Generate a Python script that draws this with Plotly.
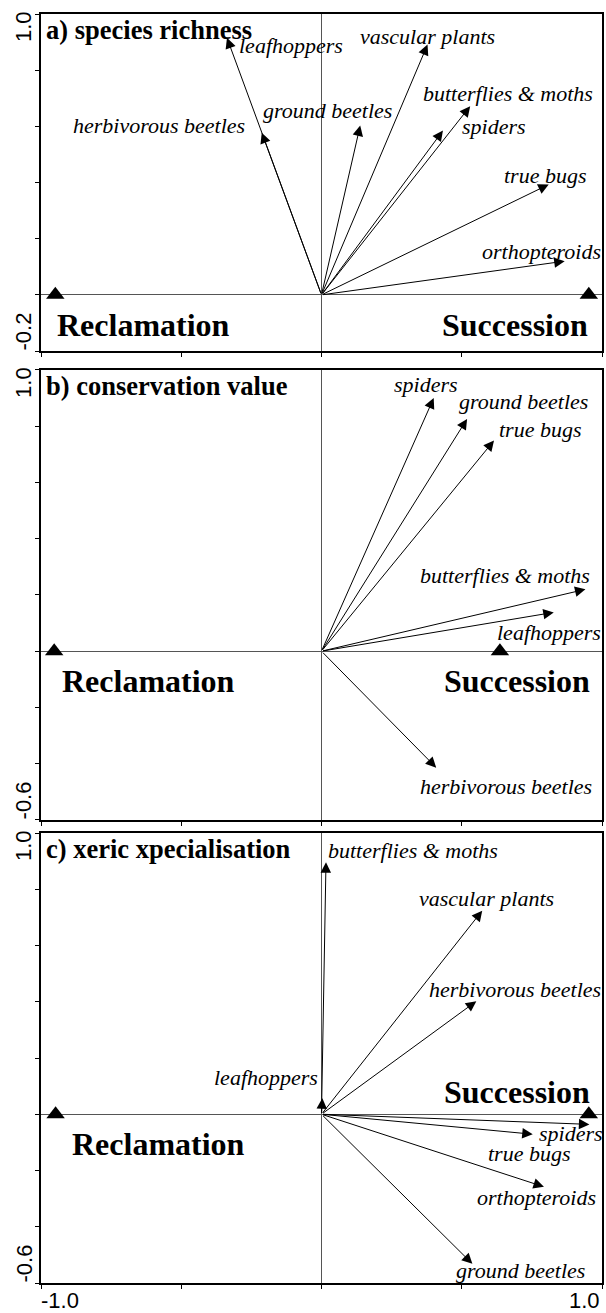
import plotly.graph_objects as go

# ---------------- data ----------------
panel_titles = ["a) species richness", "b) conservation value", "c) xeric xpecialisation"]
y_min = [-0.2, -0.6, -0.6]
y_max = [1.0, 1.0, 1.0]
y_min_labels = ["-0.2", "-0.6", "-0.6"]
y_max_labels = ["1.0", "1.0", "1.0"]
x_tick_labels = ["-1.0", "1.0"]

centroid_names = ["Reclamation", "Succession"]
centroid_x_a = [-0.949, 0.953]
centroid_x_b = [-0.953, 0.636]
centroid_x_c = [-0.948, 0.953]

names_a = ["leafhoppers", "herbivorous beetles", "ground beetles", "vascular plants",
           "butterflies & moths", "spiders", "true bugs", "orthopteroids"]
x_a = [-0.337, -0.213, 0.138, 0.378, 0.530, 0.433, 0.810, 0.867]
y_a = [0.915, 0.577, 0.603, 0.891, 0.672, 0.585, 0.393, 0.120]

names_b = ["spiders", "ground beetles", "true bugs", "butterflies & moths",
           "leafhoppers", "herbivorous beetles"]
x_b = [0.400, 0.519, 0.615, 0.941, 0.828, 0.409]
y_b = [0.900, 0.826, 0.749, 0.220, 0.138, -0.414]

names_c = ["butterflies & moths", "vascular plants", "herbivorous beetles", "leafhoppers",
           "spiders", "true bugs", "orthopteroids", "ground beetles"]
x_c = [0.016, 0.573, 0.552, 0.003, 0.955, 0.753, 0.793, 0.538]
y_c = [0.896, 0.724, 0.402, 0.057, -0.036, -0.071, -0.258, -0.532]

# ---------------- label placement (style/layout only) ----------------
label_place = [
    {  # panel a
        "leafhoppers": ("left", 10, -8),
        "herbivorous beetles": ("right", -15, 7),
        "ground beetles": ("center", -33, 15),
        "vascular plants": ("center", 0, 8),
        "butterflies & moths": ("center", 38, 13),
        "spiders": ("center", 51, 4),
        "true bugs": ("center", -3, 9),
        "orthopteroids": ("center", -23, 10),
    },
    {  # panel b
        "spiders": ("center", -8, 14),
        "ground beetles": ("center", 56, 17),
        "true bugs": ("center", 46, 11),
        "butterflies & moths": ("center", -80, 14),
        "leafhoppers": ("center", -5, -20),
        "herbivorous beetles": ("center", 70, -19),
    },
    {  # panel c
        "butterflies & moths": ("left", 0, 12),
        "vascular plants": ("center", 4, 12),
        "herbivorous beetles": ("center", 39, 12),
        "leafhoppers": ("right", -2, 21),
        "spiders": ("left", -52, -9),
        "true bugs": ("center", -3, -19),
        "orthopteroids": ("center", -7, -11),
        "ground beetles": ("center", 48, -7),
    },
]
# centroid label placement: (x in axis-domain, anchor, yshift)
centroid_place = [
    [(0.025, "left", -30), (0.978, "right", -30)],
    [(0.034, "left", -30), (0.983, "right", -30)],
    [(0.052, "left", -30), (0.982, "right", 22)],
]

domains = [[0.7344, 1.0], [0.3649, 0.7195], [0.0, 0.3546]]

SERIF = "Liberation Serif, Times New Roman, serif"
SANS = "Liberation Sans, Arial, sans-serif"

panels = [
    (names_a, x_a, y_a, centroid_x_a),
    (names_b, x_b, y_b, centroid_x_b),
    (names_c, x_c, y_c, centroid_x_c),
]

fig = go.Figure()
annotations = []
layout = {}

for i, (names, xs, ys, cx) in enumerate(panels):
    n = i + 1
    xa_name = "x" if n == 1 else f"x{n}"
    ya_name = "y" if n == 1 else f"y{n}"
    xkey = "xaxis" if n == 1 else f"xaxis{n}"
    ykey = "yaxis" if n == 1 else f"yaxis{n}"

    layout[xkey] = dict(
        domain=[0, 1], range=[-1.0, 1.0], anchor=ya_name,
        tick0=0, dtick=0.5, ticks="outside", ticklen=4, tickwidth=1, tickcolor="black",
        showticklabels=False, showgrid=False,
        showline=True, mirror=True, linecolor="black", linewidth=1.5,
        zeroline=True, zerolinecolor="#555555", zerolinewidth=1, fixedrange=True,
    )
    layout[ykey] = dict(
        domain=domains[i], range=[y_min[i], y_max[i]], anchor=xa_name,
        tick0=0, dtick=0.2, ticks="outside", ticklen=4, tickwidth=1, tickcolor="black",
        showticklabels=False, showgrid=False,
        showline=True, mirror=True, linecolor="black", linewidth=1.5,
        zeroline=True, zerolinecolor="#555555", zerolinewidth=1, fixedrange=True,
    )

    # centroid triangles
    fig.add_trace(go.Scatter(
        x=cx, y=[0] * len(cx), mode="markers", xaxis=xa_name, yaxis=ya_name,
        marker=dict(symbol="triangle-up", size=16, color="black"),
        hoverinfo="skip", showlegend=False, cliponaxis=False,
    ))

    # arrows
    for nm, x, y in zip(names, xs, ys):
        annotations.append(dict(
            x=x, y=y, ax=0, ay=0, xref=xa_name, yref=ya_name,
            axref=xa_name, ayref=ya_name, text="", showarrow=True,
            arrowhead=2, arrowsize=2.1, arrowwidth=1, arrowcolor="black", standoff=0,
        ))
        anc, xs_, ys_ = label_place[i][nm]
        annotations.append(dict(
            x=x, y=y, xref=xa_name, yref=ya_name, text=f"<i>{nm}</i>", showarrow=False,
            xanchor=anc, yanchor="middle", xshift=xs_, yshift=ys_,
            font=dict(family=SERIF, size=22, color="black"),
        ))

    # centroid labels
    for j, nm in enumerate(centroid_names):
        px, anc, ysh = centroid_place[i][j]
        annotations.append(dict(
            x=px, y=0, xref=f"{xa_name} domain", yref=ya_name, text=f"<b>{nm}</b>",
            showarrow=False, xanchor=anc, yanchor="middle", yshift=ysh,
            font=dict(family=SERIF, size=32, color="black"),
        ))

    # panel title
    annotations.append(dict(
        x=0, y=1, xref=f"{xa_name} domain", yref=f"{ya_name} domain",
        text=f"<b>{panel_titles[i]}</b>", showarrow=False,
        xanchor="left", yanchor="top", xshift=3, yshift=1,
        font=dict(family=SERIF, size=26.5, color="black"),
    ))

    # y-axis end labels (rotated)
    annotations.append(dict(
        x=0, y=1, xref=f"{xa_name} domain", yref=f"{ya_name} domain",
        text=y_max_labels[i], showarrow=False, textangle=-90,
        xanchor="right", yanchor="top", xshift=-3, yshift=5,
        font=dict(family=SANS, size=22, color="black"),
    ))
    annotations.append(dict(
        x=0, y=0, xref=f"{xa_name} domain", yref=f"{ya_name} domain",
        text=y_min_labels[i], showarrow=False, textangle=-90,
        xanchor="right", yanchor="bottom", xshift=-3, yshift=-2,
        font=dict(family=SANS, size=22, color="black"),
    ))

# bottom x-axis end labels
annotations.append(dict(
    x=0, y=0, xref="x3 domain", yref="y3 domain", text=x_tick_labels[0],
    showarrow=False, xanchor="left", yanchor="top", xshift=-2, yshift=-3,
    font=dict(family=SANS, size=22, color="black"),
))
annotations.append(dict(
    x=1, y=0, xref="x3 domain", yref="y3 domain", text=x_tick_labels[1],
    showarrow=False, xanchor="right", yanchor="top", xshift=0, yshift=-3,
    font=dict(family=SANS, size=22, color="black"),
))

fig.update_layout(
    width=606, height=1313,
    margin=dict(l=41, r=2, t=14, b=30),
    paper_bgcolor="white", plot_bgcolor="white",
    showlegend=False, annotations=annotations,
    **layout,
)

fig.write_html(
    "out.html",
    config={"displayModeBar": False},
    post_script="document.body.style.margin='0';document.body.style.overflow='hidden';",
)
